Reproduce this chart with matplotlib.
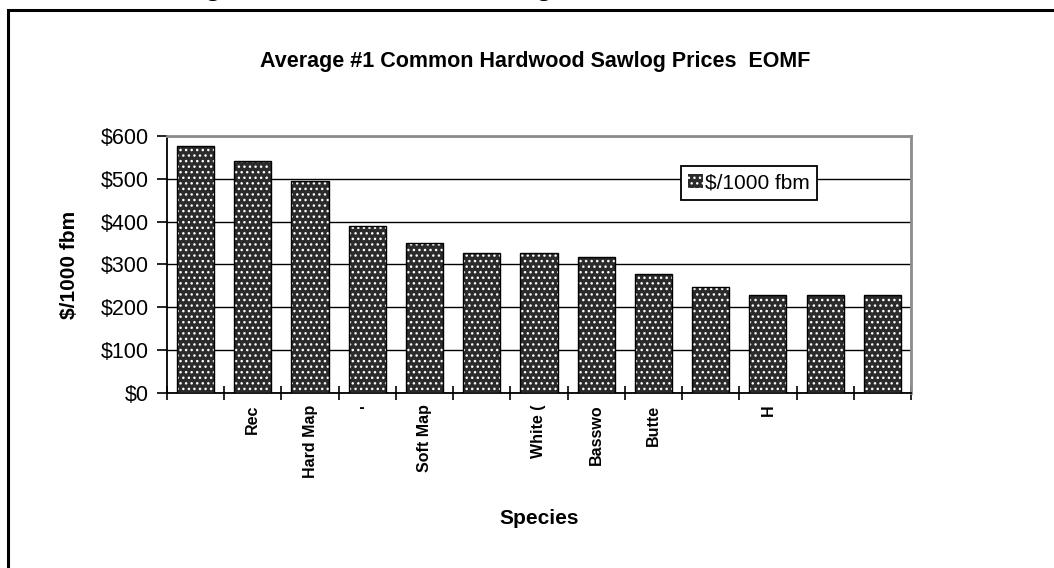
import numpy as np
import matplotlib.pyplot as plt
from matplotlib.patches import Rectangle

# data
species = ['', 'Rec', 'Hard Map', "'", 'Soft Map', '', 'White (', 'Basswo',
           'Butte', '', 'H', '', '']
prices = [577, 540, 495, 390, 350, 327, 327, 318, 277, 248, 229, 229, 229]
yticks = [0, 100, 200, 300, 400, 500, 600]
ytick_labels = ['$0', '$100', '$200', '$300', '$400', '$500', '$600']

plt.rcParams['font.family'] = ['Liberation Sans', 'DejaVu Sans']

fig = plt.figure(figsize=(10.54, 5.68), dpi=100)
ax = fig.add_axes([0.1584, 0.3076, 0.7059, 0.4535])

x = np.arange(len(prices)) + 0.5

# dotted fill, then black outline
ax.bar(x, prices, width=0.65, color='#2b2b2b', hatch='...', edgecolor='white',
       linewidth=0, zorder=3, label='$/1000 fbm')
ax.bar(x, prices, width=0.65, fill=False, edgecolor='black', linewidth=1.0,
       zorder=4)

ax.set_xlim(0, len(prices))
ax.set_ylim(0, 600)
ax.set_yticks(yticks)
ax.set_yticklabels(ytick_labels, fontsize=15.5)
ax.yaxis.grid(True, color='black', linewidth=1.0, zorder=1)
ax.set_axisbelow(True)

ax.set_xticks(x)
ax.set_xticklabels(species, rotation=90, fontsize=11.5, fontweight='bold',
                   va='top')
ax.set_xticks(np.arange(len(prices) + 1), minor=True)
ax.tick_params(axis='x', which='major', length=0, pad=8)
ax.tick_params(axis='x', which='minor', direction='inout', length=10, width=1.2)
ax.tick_params(axis='y', direction='out', length=7, width=1.2, pad=6)

for s in ['top', 'right']:
    ax.spines[s].set_color('#8c8c8c')
    ax.spines[s].set_linewidth(2)
for s in ['left', 'bottom']:
    ax.spines[s].set_color('black')
    ax.spines[s].set_linewidth(1.3)

ax.set_ylabel('$/1000 fbm', fontsize=15, fontweight='bold', labelpad=16)

leg = ax.legend(loc='upper left', bbox_to_anchor=(0.691, 0.882),
                borderaxespad=0, fancybox=False, framealpha=1,
                edgecolor='black', fontsize=15, handlelength=0.7,
                handleheight=0.7, handletextpad=0.1, borderpad=0.35)
leg.get_frame().set_linewidth(1.3)

fig.text(535 / 1054, 1 - 62 / 568, 'Average #1 Common Hardwood Sawlog Prices  EOMF',
         ha='center', va='center', fontsize=15.5, fontweight='bold')
fig.text(539 / 1054, 1 - 518 / 568, 'Species', ha='center', va='center',
         fontsize=15, fontweight='bold')

# caption above the frame, mostly cut off as in the reference
fig.text(0.0, 1 + 4 / 568, 'Chart 10: The Average #1 Common Hardwood Sawlog Prices',
         ha='left', va='baseline', fontsize=17, fontweight='bold',
         family=['Liberation Serif', 'DejaVu Serif'])

# outer frame
fig.patches.append(Rectangle((8 / 1054, -0.1), 1.2, (1 - 10 / 568) + 0.1,
                             transform=fig.transFigure, fill=False,
                             edgecolor='black', linewidth=2.2))

fig.savefig('out.png', dpi=100)
